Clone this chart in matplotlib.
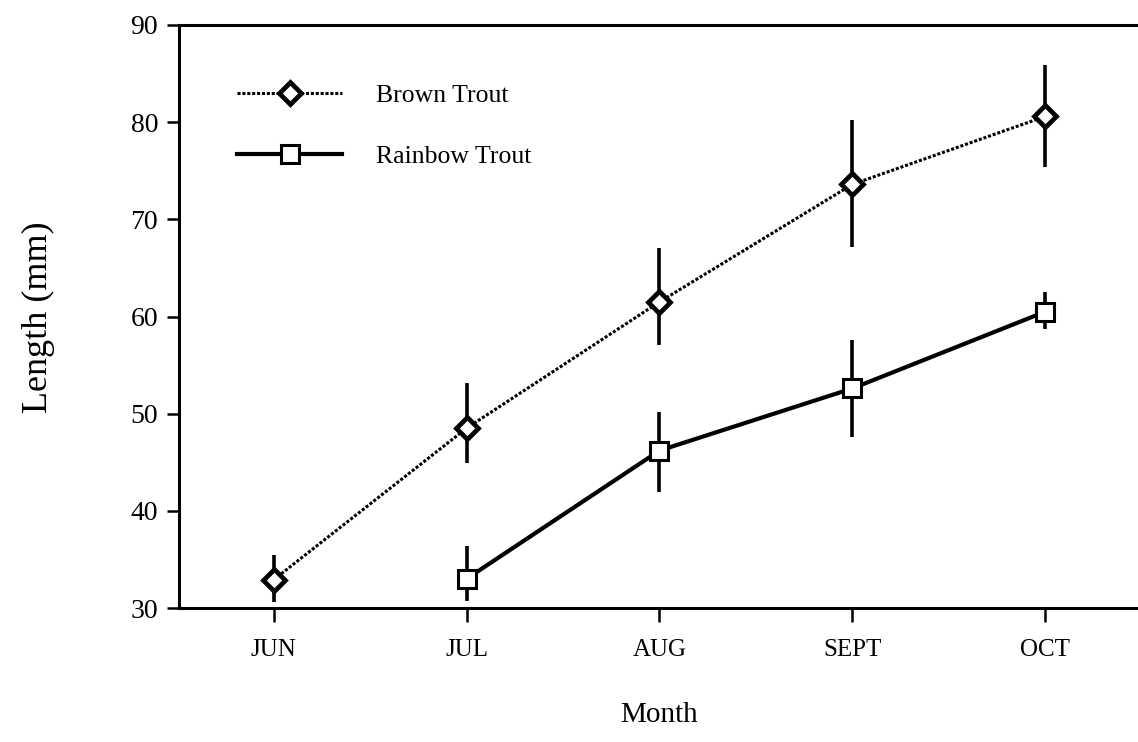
import matplotlib
matplotlib.use("Agg")
import matplotlib.pyplot as plt

months = ["JUN", "JUL", "AUG", "SEPT", "OCT"]

brown_x = [0, 1, 2, 3, 4]
brown_mean = [32.9, 48.5, 61.5, 73.6, 80.6]
brown_err_low = [2.3, 3.6, 4.4, 6.4, 5.2]
brown_err_high = [2.6, 4.7, 5.6, 6.6, 5.3]

rainbow_x = [1, 2, 3, 4]
rainbow_mean = [33.0, 46.2, 52.6, 60.5]
rainbow_err_low = [2.3, 4.3, 5.0, 1.8]
rainbow_err_high = [3.4, 4.0, 5.0, 2.0]

y_ticks = [30, 40, 50, 60, 70, 80, 90]

plt.rcParams['font.family'] = ['Liberation Serif', 'DejaVu Serif']

fig = plt.figure(figsize=(11.38, 7.42), dpi=100)
ax = fig.add_axes([179/1138, 1-608/742, 1-179/1138, (608-25)/742])

ax.errorbar(brown_x, brown_mean, yerr=[brown_err_low, brown_err_high],
            fmt='none', ecolor='black', elinewidth=2.6, capsize=0, zorder=2)
ax.errorbar(rainbow_x, rainbow_mean, yerr=[rainbow_err_low, rainbow_err_high],
            fmt='none', ecolor='black', elinewidth=2.6, capsize=0, zorder=2)

ax.plot(brown_x, brown_mean, linestyle=(0, (1, 0.6)), color='black', linewidth=2.2,
        marker='D', markersize=11, markerfacecolor='white', markeredgecolor='black',
        markeredgewidth=3.4, label='Brown Trout', zorder=3)
ax.plot(rainbow_x, rainbow_mean, linestyle='-', color='black', linewidth=3,
        marker='s', markersize=12.5, markerfacecolor='white', markeredgecolor='black',
        markeredgewidth=2.2, label='Rainbow Trout', zorder=3)

ax.set_xlim(-0.49, 4.48)
ax.set_ylim(30, 90)
ax.set_xticks(range(len(months)))
ax.set_xticklabels(months, fontsize=18)
ax.set_yticks(y_ticks)
ax.set_yticklabels([str(v) for v in y_ticks], fontsize=20)

ax.tick_params(axis='y', direction='out', length=9, width=1.8, pad=6)
ax.tick_params(axis='x', direction='out', length=10, width=1.8, pad=12)

for s in ['left', 'bottom', 'top']:
    ax.spines[s].set_linewidth(2.2)
ax.spines['right'].set_visible(False)

fig.text(38/1138, 1-317/742, "Length (mm)", rotation=90, fontsize=26,
         ha='center', va='center')
fig.text(659/1138, 1-715/742, "Month", fontsize=21, ha='center', va='center')

leg = ax.legend(loc='upper left', bbox_to_anchor=(237/1138, 1-84/742),
                bbox_transform=fig.transFigure, frameon=False, fontsize=18.5,
                handlelength=4.1, handletextpad=1.3, labelspacing=1.47,
                borderpad=0, borderaxespad=0)

fig.savefig("out.png", dpi=100)
